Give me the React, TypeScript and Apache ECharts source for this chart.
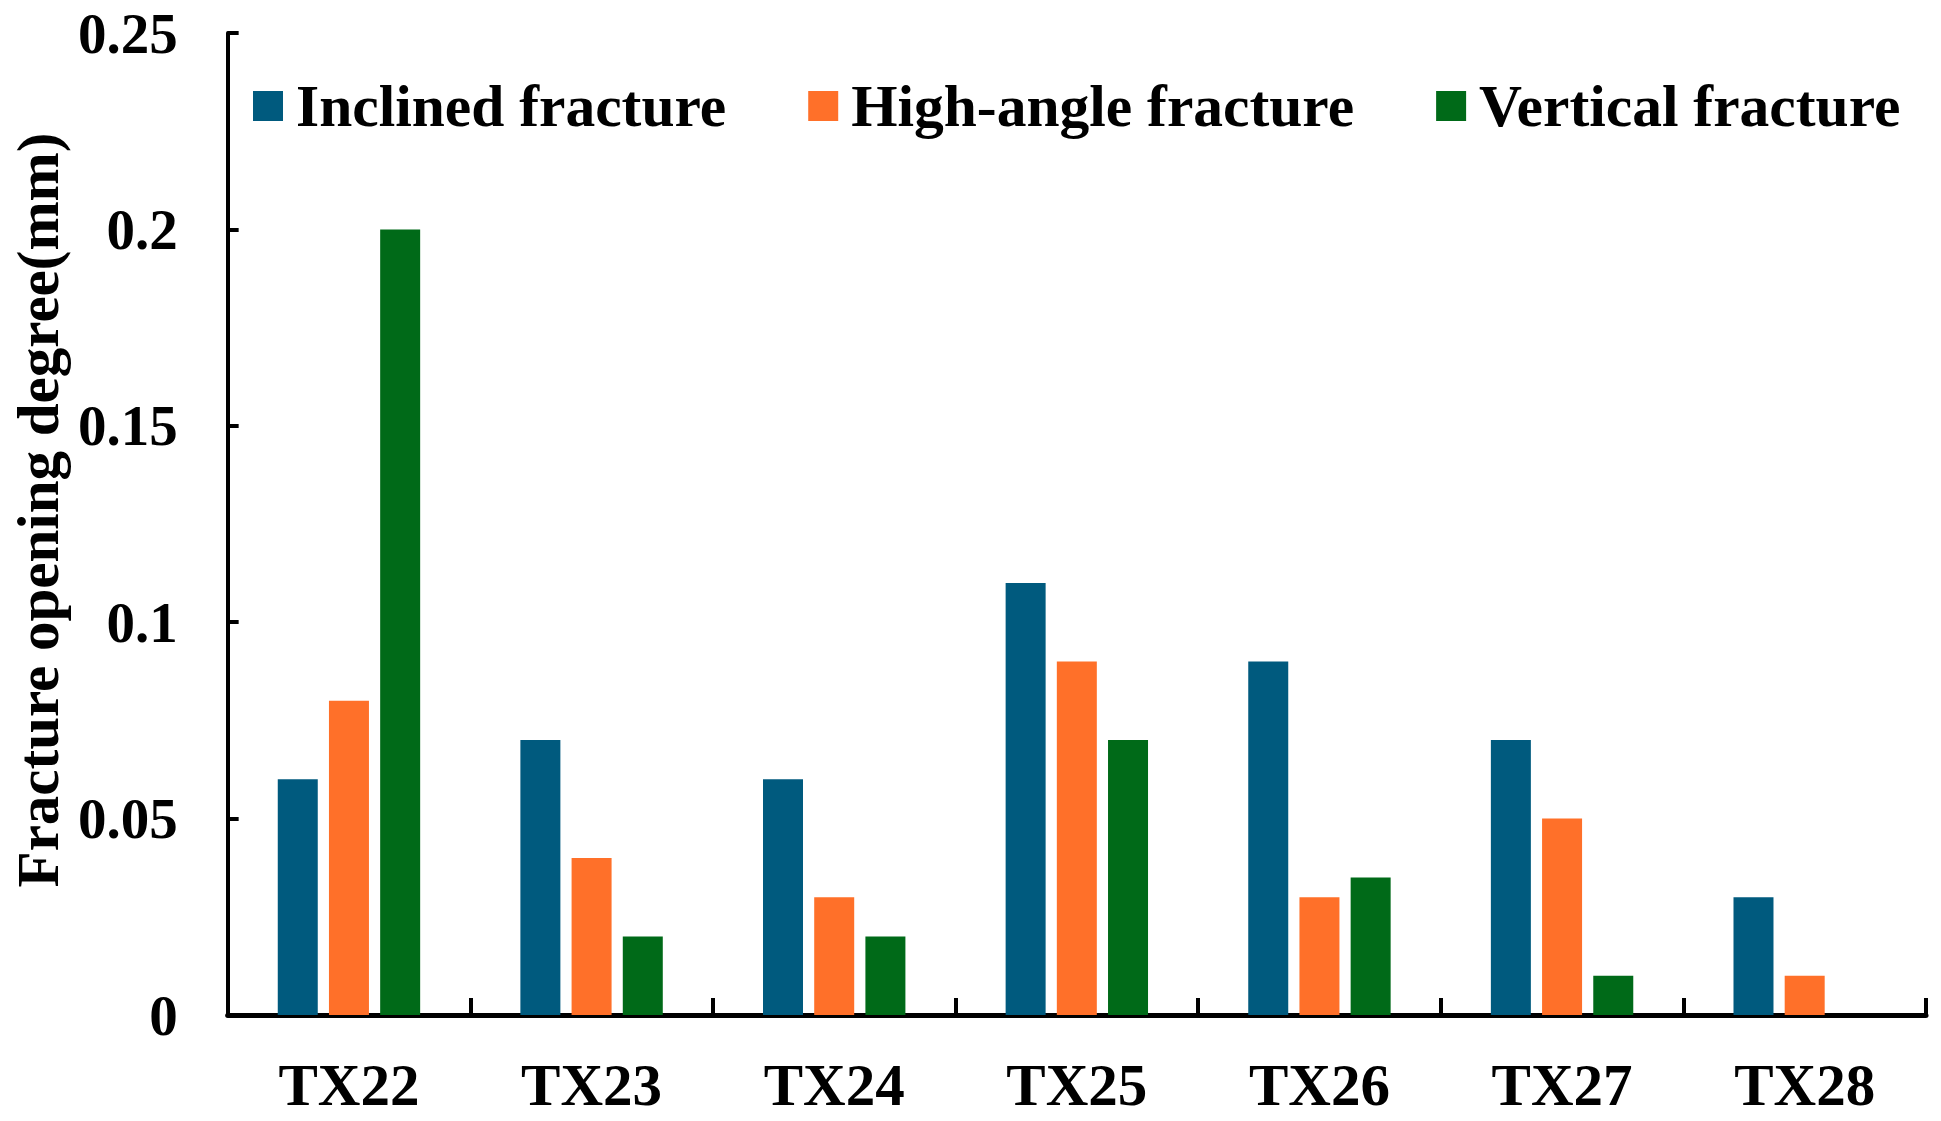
import React, { useEffect, useRef } from "react";
import * as echarts from "echarts";

const categories = ["TX22", "TX23", "TX24", "TX25", "TX26", "TX27", "TX28"];
const inclined = [0.06, 0.07, 0.06, 0.11, 0.09, 0.07, 0.03];
const highAngle = [0.08, 0.04, 0.03, 0.09, 0.03, 0.05, 0.01];
const vertical = [0.2, 0.02, 0.02, 0.07, 0.035, 0.01, 0];
const seriesNames = ["Inclined fracture", "High-angle fracture", "Vertical fracture"];
const colors = ["#005A7E", "#FF7029", "#006A18"];

const FONT = "'Liberation Serif', 'Times New Roman', serif";

export default function App() {
  const ref = useRef<HTMLDivElement>(null);
  useEffect(() => {
    if (!ref.current) return;
    const chart = echarts.init(ref.current, undefined, { renderer: "svg" });
    const data = [inclined, highAngle, vertical];
    chart.setOption({
      animation: false,
      backgroundColor: "#ffffff",
      textStyle: { fontFamily: FONT, fontWeight: "bold", color: "#000" },
      grid: { left: 224, right: 15, top: 33, bottom: 106, containLabel: false },
      legend: {
        left: 253,
        top: 76,
        padding: 0,
        itemWidth: 30,
        itemHeight: 30,
        itemGap: 82,
        icon: "rect",
        data: seriesNames,
        textStyle: {
          fontFamily: FONT,
          fontWeight: "bold",
          fontSize: 59.5,
          color: "#000",
          padding: [0, 0, 0, 8],
        },
      },
      xAxis: {
        type: "category",
        data: categories,
        axisLine: { show: true, lineStyle: { color: "#000", width: 5 } },
        axisTick: { show: true, inside: true, length: 17, lineStyle: { color: "#000", width: 4 } },
        axisLabel: {
          fontFamily: FONT,
          fontWeight: "bold",
          fontSize: 59,
          color: "#000",
          margin: 40,
        },
        splitLine: { show: false },
      },
      yAxis: {
        type: "value",
        min: 0,
        max: 0.25,
        interval: 0.05,
        name: "Fracture opening degree(mm)",
        nameLocation: "middle",
        nameGap: 157,
        nameTextStyle: {
          fontFamily: FONT,
          fontWeight: "bold",
          fontSize: 59,
          color: "#000",
          padding: [0, 0, 0, 28],
        },
        axisLine: { show: true, lineStyle: { color: "#000", width: 4 } },
        axisTick: { show: true, inside: true, length: 11, lineStyle: { color: "#000", width: 4 } },
        axisLabel: {
          fontFamily: FONT,
          fontWeight: "bold",
          fontSize: 57,
          color: "#000",
          margin: 50,
          formatter: (v: number) => String(parseFloat(v.toFixed(3))),
        },
        splitLine: { show: false },
      },
      series: seriesNames.map((name, i) => ({
        name,
        type: "bar",
        data: data[i],
        barWidth: 40,
        barGap: "28%",
        itemStyle: { color: colors[i] },
      })),
    });
    return () => chart.dispose();
  }, []);
  return (
    <div
      ref={ref}
      style={{ position: "fixed", left: 0, top: 0, width: 1941, height: 1121 }}
    />
  );
}
